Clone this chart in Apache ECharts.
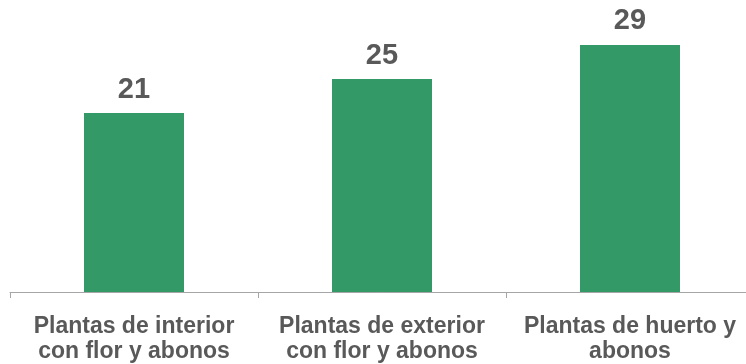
<!DOCTYPE html>
<html>
<head>
<meta charset="utf-8">
<script src="https://cdn.jsdelivr.net/npm/echarts@6/dist/echarts.min.js"></script>
<style>html,body{margin:0;padding:0;background:#fff;overflow:hidden;width:746px;height:364px}#c{width:754px;height:364px}</style>
</head>
<body>
<div id="c"></div>
<script>
const categories = ["Plantas de interior\ncon flor y abonos", "Plantas de exterior\ncon flor y abonos", "Plantas de huerto y\nabonos"];
const values = [21, 25, 29];

const chart = echarts.init(document.getElementById('c'), null, {renderer: 'canvas'});
chart.setOption({
  animation: false,
  grid: {left: 10, right: 0, top: 36.4, bottom: 72, containLabel: false},
  xAxis: {
    type: 'category',
    data: categories,
    axisLine: {lineStyle: {color: '#a6a6a6', width: 1}},
    axisTick: {show: true, length: 6, lineStyle: {color: '#a6a6a6'}},
    axisLabel: {
      color: '#595959', fontFamily: 'Liberation Sans, Arial, sans-serif',
      fontWeight: 'bold', fontSize: 23, lineHeight: 25, margin: 22, interval: 0
    }
  },
  yAxis: {type: 'value', min: 0, max: 30, show: false, splitLine: {show: false}},
  series: [{
    type: 'bar',
    data: values,
    barWidth: 100,
    itemStyle: {color: '#339966'},
    label: {
      show: true, position: 'top', distance: 9,
      color: '#595959', fontFamily: 'Liberation Sans, Arial, sans-serif',
      fontWeight: 'bold', fontSize: 29
    }
  }]
});
</script>
</body>
</html>
